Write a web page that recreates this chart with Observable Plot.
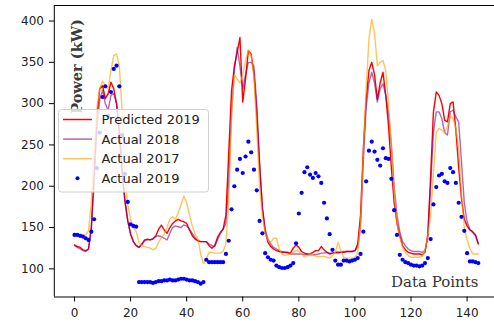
<!DOCTYPE html>
<html><head><meta charset="utf-8">
<script src="https://cdn.jsdelivr.net/npm/d3@7"></script>
<script src="https://cdn.jsdelivr.net/npm/@observablehq/plot@0.6"></script>
<style>
body{margin:0;background:#fff;}
#wrap{position:relative;width:494px;height:324px;overflow:hidden;background:#fff;}
#wrap svg{display:block;}
#legend{position:absolute;left:58px;top:109px;}
</style></head><body>
<div id="wrap"><div id="chart"></div><div id="legend"></div></div>
<script>
const seriesNames = ["Predicted 2019", "Actual 2018", "Actual 2017", "Actual 2019"];
const seriesColors = ["red", "purple", "orange", "blue"];
const seriesOpacity = [1, 0.6, 0.65, 1];
const xTicks = [0, 20, 40, 60, 80, 100, 120, 140];
const yTicks = [100, 150, 200, 250, 300, 350, 400];
const yTitle = "Power (kW)";
const xTitle = "Data Points";

const predicted2019 = [
  129,127,126,123,122,124,150,215,285,318,
  322,306,312,326,318,300,265,215,182,158,
  142,133,128,126,130,135,136,135,136,140,
  148,153,147,143,150,155,158,160,158,157,
  155,147,140,136,134,133,133,133,128,125,
  128,138,144,148,165,240,315,345,362,380,
  302,330,364,360,336,288,225,175,145,132,
  127,124,122,121,120,120,120,119,125,129,
  126,121,119,118,118,120,122,122,127,123,
  120,118,119,120,120,120,120,121,121,121,
  122,130,165,245,305,340,350,335,305,325,
  338,310,272,222,180,155,140,128,123,120,
  119,118,118,118,117,120,142,212,290,314,
  310,300,280,278,300,302,268,223,185,160,
  152,147,145,141,130
];
const actual2018 = [
  128,126,124,122,121,124,148,205,270,305,
  316,300,292,310,312,300,268,222,182,158,
  142,133,128,126,129,134,135,135,137,139,
  140,139,137,135,143,150,152,151,150,153,
  152,148,143,138,134,133,133,133,130,128,
  127,135,143,148,155,205,290,340,368,345,
  318,335,350,350,345,300,230,172,148,136,
  130,126,124,122,121,120,119,118,118,118,
  118,118,117,117,117,117,117,118,119,119,
  120,119,119,119,119,120,121,121,121,121,
  122,126,150,230,295,325,338,325,302,318,
  324,310,288,250,200,165,145,133,128,124,
  122,121,121,121,120,122,138,200,265,290,
  290,282,265,262,290,292,284,278,230,180,
  157,148,144,140,131
];
const actual2017 = [
  143,142,142,141,141,146,180,245,295,318,
  327,322,318,340,358,360,345,290,210,178,
  160,150,145,132,128,127,126,125,123,125,
  132,138,142,150,160,163,160,168,178,188,
  180,165,152,142,137,118,106,112,120,120,
  119,119,119,121,130,180,285,335,330,325,
  335,352,365,358,332,268,200,163,143,135,
  132,137,137,124,118,116,117,118,120,122,
  121,118,114,116,118,117,115,115,115,115,
  114,113,116,120,132,122,114,113,113,113,
  114,120,155,240,318,378,402,385,346,350,
  352,340,300,250,192,155,138,126,120,116,
  114,114,114,114,115,122,140,165,215,265,
  270,268,265,272,285,282,270,245,190,150,
  135,125,118,118,118
];
const actual2019 = [
  141,141,140,139,137,135,145,160,222,265,
  308,321,285,314,342,346,321,262,215,181,
  154,152,151,84,84,84,84,84,83,84,
  85,85,86,86,87,86,86,87,88,88,
  87,86,86,85,84,82,84,111,108,108,
  108,108,108,108,118,134,172,200,220,233,
  216,236,254,241,220,195,158,143,119,114,
  111,110,104,102,101,101,102,104,107,131,
  167,192,217,223,214,210,216,212,204,180,
  161,142,123,110,105,105,110,110,109,110,
  111,113,118,145,206,243,254,242,232,225,
  246,234,233,209,171,141,117,111,108,107,
  105,104,104,103,104,107,113,136,178,199,
  213,215,206,204,222,217,204,180,163,146,
  119,109,109,108,107
];

const xDomain = [-7.2, 151.2];
const yDomain = [65.9, 418.8];
const idx = (d, i) => i;
const val = d => d;
const lineSeries = [predicted2019, actual2018, actual2017];

const chart = Plot.plot({
  width: 494,
  height: 324,
  marginLeft: 54,
  marginTop: 5,
  marginBottom: 27.5,
  marginRight: 0,
  style: {fontFamily: "DejaVu Sans, sans-serif", fontSize: "12px", background: "white", color: "#000", overflow: "hidden"},
  x: {domain: xDomain, range: [53.8, 498]},
  y: {domain: yDomain},
  marks: [
    ...lineSeries.map((arr, k) => Plot.lineY(arr, {x: idx, y: val, stroke: seriesColors[k], strokeOpacity: seriesOpacity[k], strokeWidth: 1.4})),
    Plot.dot(actual2019, {x: idx, y: val, r: 2.1, fill: seriesColors[3], stroke: null}),
    Plot.ruleY([yDomain[0]], {stroke: "#000", strokeWidth: 1}),
    Plot.ruleY([yDomain[1]], {stroke: "#000", strokeWidth: 1}),
    Plot.ruleX([xDomain[0]], {stroke: "#000", strokeWidth: 1}),
    Plot.axisY({ticks: yTicks, tickSize: 5, tickPadding: 5.5, label: null, fontSize: 12, fill: "#222"}),
    Plot.axisX({ticks: xTicks, tickSize: 5, tickPadding: 6, label: null, fontSize: 12, fill: "#222"}),
    Plot.text([yTitle], {frameAnchor: "top-left", dx: 17, dy: 61, rotate: -90, text: d => d, textAnchor: "middle", fontFamily: "DejaVu Serif, serif", fontWeight: "bold", fontSize: 14.5, fill: "#3a3a3a"}),
    Plot.text([xTitle], {frameAnchor: "bottom-right", dx: -16, dy: -10, text: d => d, textAnchor: "end", fontFamily: "DejaVu Serif, serif", fontSize: 15, fill: "#333"})
  ]
});
document.getElementById("chart").appendChild(chart);

// in-plot legend (matplotlib style)
const lg = d3.select("#legend").append("svg").attr("width", 152).attr("height", 84);
lg.append("rect").attr("x", 0.5).attr("y", 0.5).attr("width", 150).attr("height", 82.5)
  .attr("rx", 3).attr("fill", "white").attr("fill-opacity", 0.8).attr("stroke", "#d0d0d0");
const rowY = k => 10.5 + k * 19.6;
seriesNames.forEach((name, k) => {
  if (k < 3) {
    lg.append("line").attr("x1", 5).attr("x2", 34).attr("y1", rowY(k)).attr("y2", rowY(k))
      .attr("stroke", seriesColors[k]).attr("stroke-opacity", seriesOpacity[k]).attr("stroke-width", 1.5);
  } else {
    lg.append("circle").attr("cx", 19.5).attr("cy", rowY(k)).attr("r", 2).attr("fill", seriesColors[k]);
  }
  lg.append("text").attr("x", 43.5).attr("y", rowY(k)).attr("dy", "0.35em")
    .attr("font-family", "DejaVu Sans, sans-serif").attr("font-size", 13).attr("fill", "#222").text(name);
});
</script>
</body></html>
